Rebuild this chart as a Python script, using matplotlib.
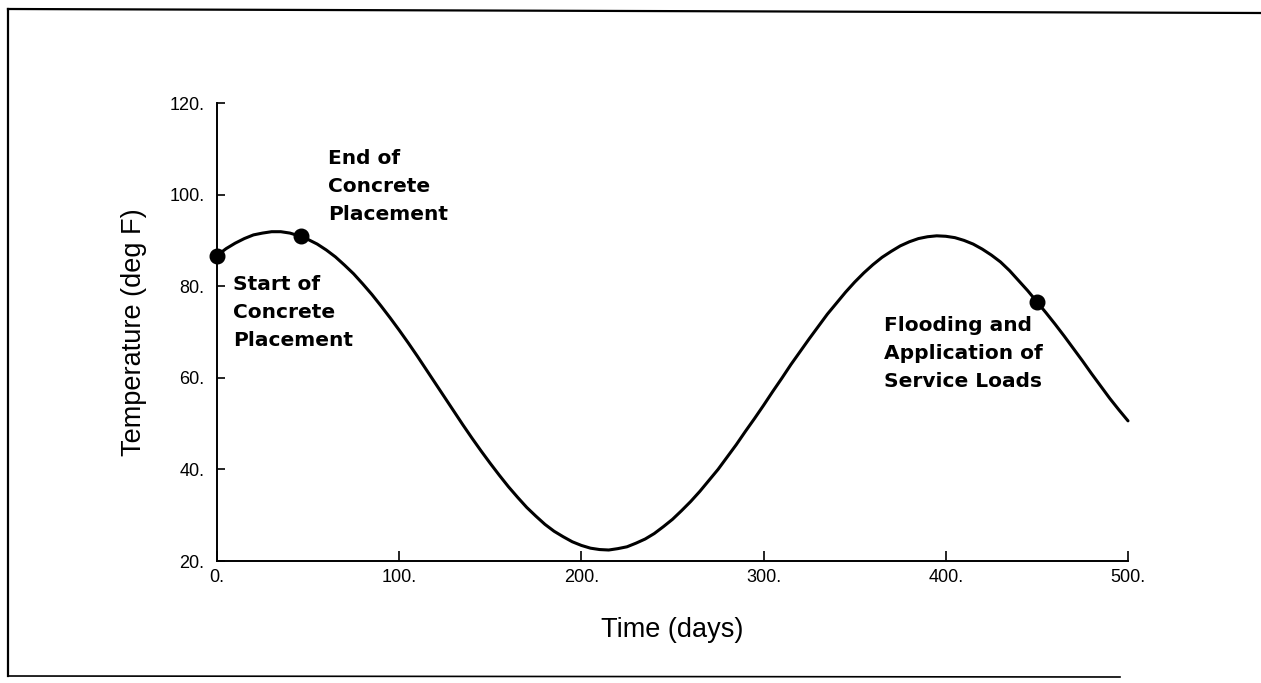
import matplotlib
matplotlib.use("Agg")
import matplotlib.pyplot as plt
from matplotlib.lines import Line2D

# Seasonal air temperature history (deg F) sampled every 5 days
days = list(range(0, 505, 5))
temperature = [86.7, 88.2, 89.4, 90.4, 91.2, 91.6, 91.9, 91.9, 91.6, 91.0,
               90.2, 89.2, 87.9, 86.4, 84.6, 82.7, 80.5, 78.2, 75.7, 73.1,
               70.4, 67.6, 64.7, 61.7, 58.7, 55.7, 52.7, 49.7, 46.8, 44.0,
               41.3, 38.7, 36.2, 33.9, 31.7, 29.8, 28.0, 26.5, 25.3, 24.2,
               23.4, 22.8, 22.5, 22.4, 22.7, 23.1, 23.9, 24.8, 26.0, 27.5,
               29.1, 31.0, 33.0, 35.2, 37.6, 40.0, 42.7, 45.4, 48.3, 51.1,
               54.0, 57.0, 59.9, 62.9, 65.7, 68.5, 71.2, 73.9, 76.3, 78.7,
               80.9, 82.9, 84.7, 86.3, 87.6, 88.8, 89.7, 90.4, 90.8, 91.0,
               90.9, 90.6, 90.0, 89.2, 88.1, 86.8, 85.3, 83.4, 81.2, 79.0,
               76.6, 74.2, 71.7, 69.1, 66.4, 63.7, 60.9, 58.2, 55.5, 53.0, 50.6]

# Construction milestones
event_days = [0, 46, 450]
event_temps = [86.7, 90.9, 76.6]
event_labels = ["Start of\nConcrete\nPlacement",
                "End of\nConcrete\nPlacement",
                "Flooding and\nApplication of\nService Loads"]

x_ticks = [0, 100, 200, 300, 400, 500]
x_tick_labels = ["0.", "100.", "200.", "300.", "400.", "500."]
y_ticks = [20, 40, 60, 80, 100, 120]
y_tick_labels = ["20.", "40.", "60.", "80.", "100.", "120."]

W, H = 1261, 683
fig = plt.figure(figsize=(W / 100, H / 100), dpi=100)
fig.patch.set_facecolor("white")

# Page frame (open on the right)
fig.add_artist(Line2D([8 / W, 1.0], [1 - 9 / H, 1 - 13 / H],
                      transform=fig.transFigure, color="black", lw=1.6))
fig.add_artist(Line2D([8 / W, 8 / W], [1 - 9 / H, 1 - 676 / H],
                      transform=fig.transFigure, color="black", lw=1.6))
fig.add_artist(Line2D([8 / W, 1120 / W], [1 - 676 / H, 1 - 677 / H],
                      transform=fig.transFigure, color="black", lw=1.2))

ax = fig.add_axes([217 / W, 1 - 561 / H, (1128 - 217) / W, (561 - 103) / H])
ax.set_xlim(0, 500)
ax.set_ylim(20, 120)
for side in ("top", "right"):
    ax.spines[side].set_visible(False)
for side in ("left", "bottom"):
    ax.spines[side].set_linewidth(1.4)

ax.plot(days, temperature, color="black", lw=2.2, solid_capstyle="round",
        solid_joinstyle="round", clip_on=False, zorder=3)
ax.plot(event_days, event_temps, "o", color="black", ms=10.5, clip_on=False,
        zorder=4)

tick_font = dict(family=["Liberation Sans", "DejaVu Sans"], size=13)
ax.set_xticks(x_ticks)
ax.set_xticklabels(x_tick_labels, **tick_font)
ax.set_yticks(y_ticks)
ax.set_yticklabels(y_tick_labels, **tick_font)
ax.tick_params(axis="x", direction="in", length=7, width=1.2, pad=6)
ax.tick_params(axis="y", direction="in", length=6, width=1.2, pad=9)

label_font = dict(family=["Liberation Sans", "DejaVu Sans"], size=19.5)
ax.set_xlabel("Time (days)", va="center", **label_font)
ax.xaxis.set_label_coords(0.5, -(630 - 561) / 458)
ax.set_ylabel("Temperature (deg F)", va="center", **label_font)
ax.yaxis.set_label_coords(-(217 - 134) / 911, 0.5)

note_font = dict(family=["DejaVu Sans"], size=14.5, weight="bold",
                 linespacing=1.58)
ax.text(9, 74.3, event_labels[0], ha="left", va="center", **note_font)
ax.text(61, 101.8, event_labels[1], ha="left", va="center", **note_font)
ax.text(366, 65.3, event_labels[2], ha="left", va="center", **note_font)

fig.savefig("out.png", dpi=100, facecolor="white")
